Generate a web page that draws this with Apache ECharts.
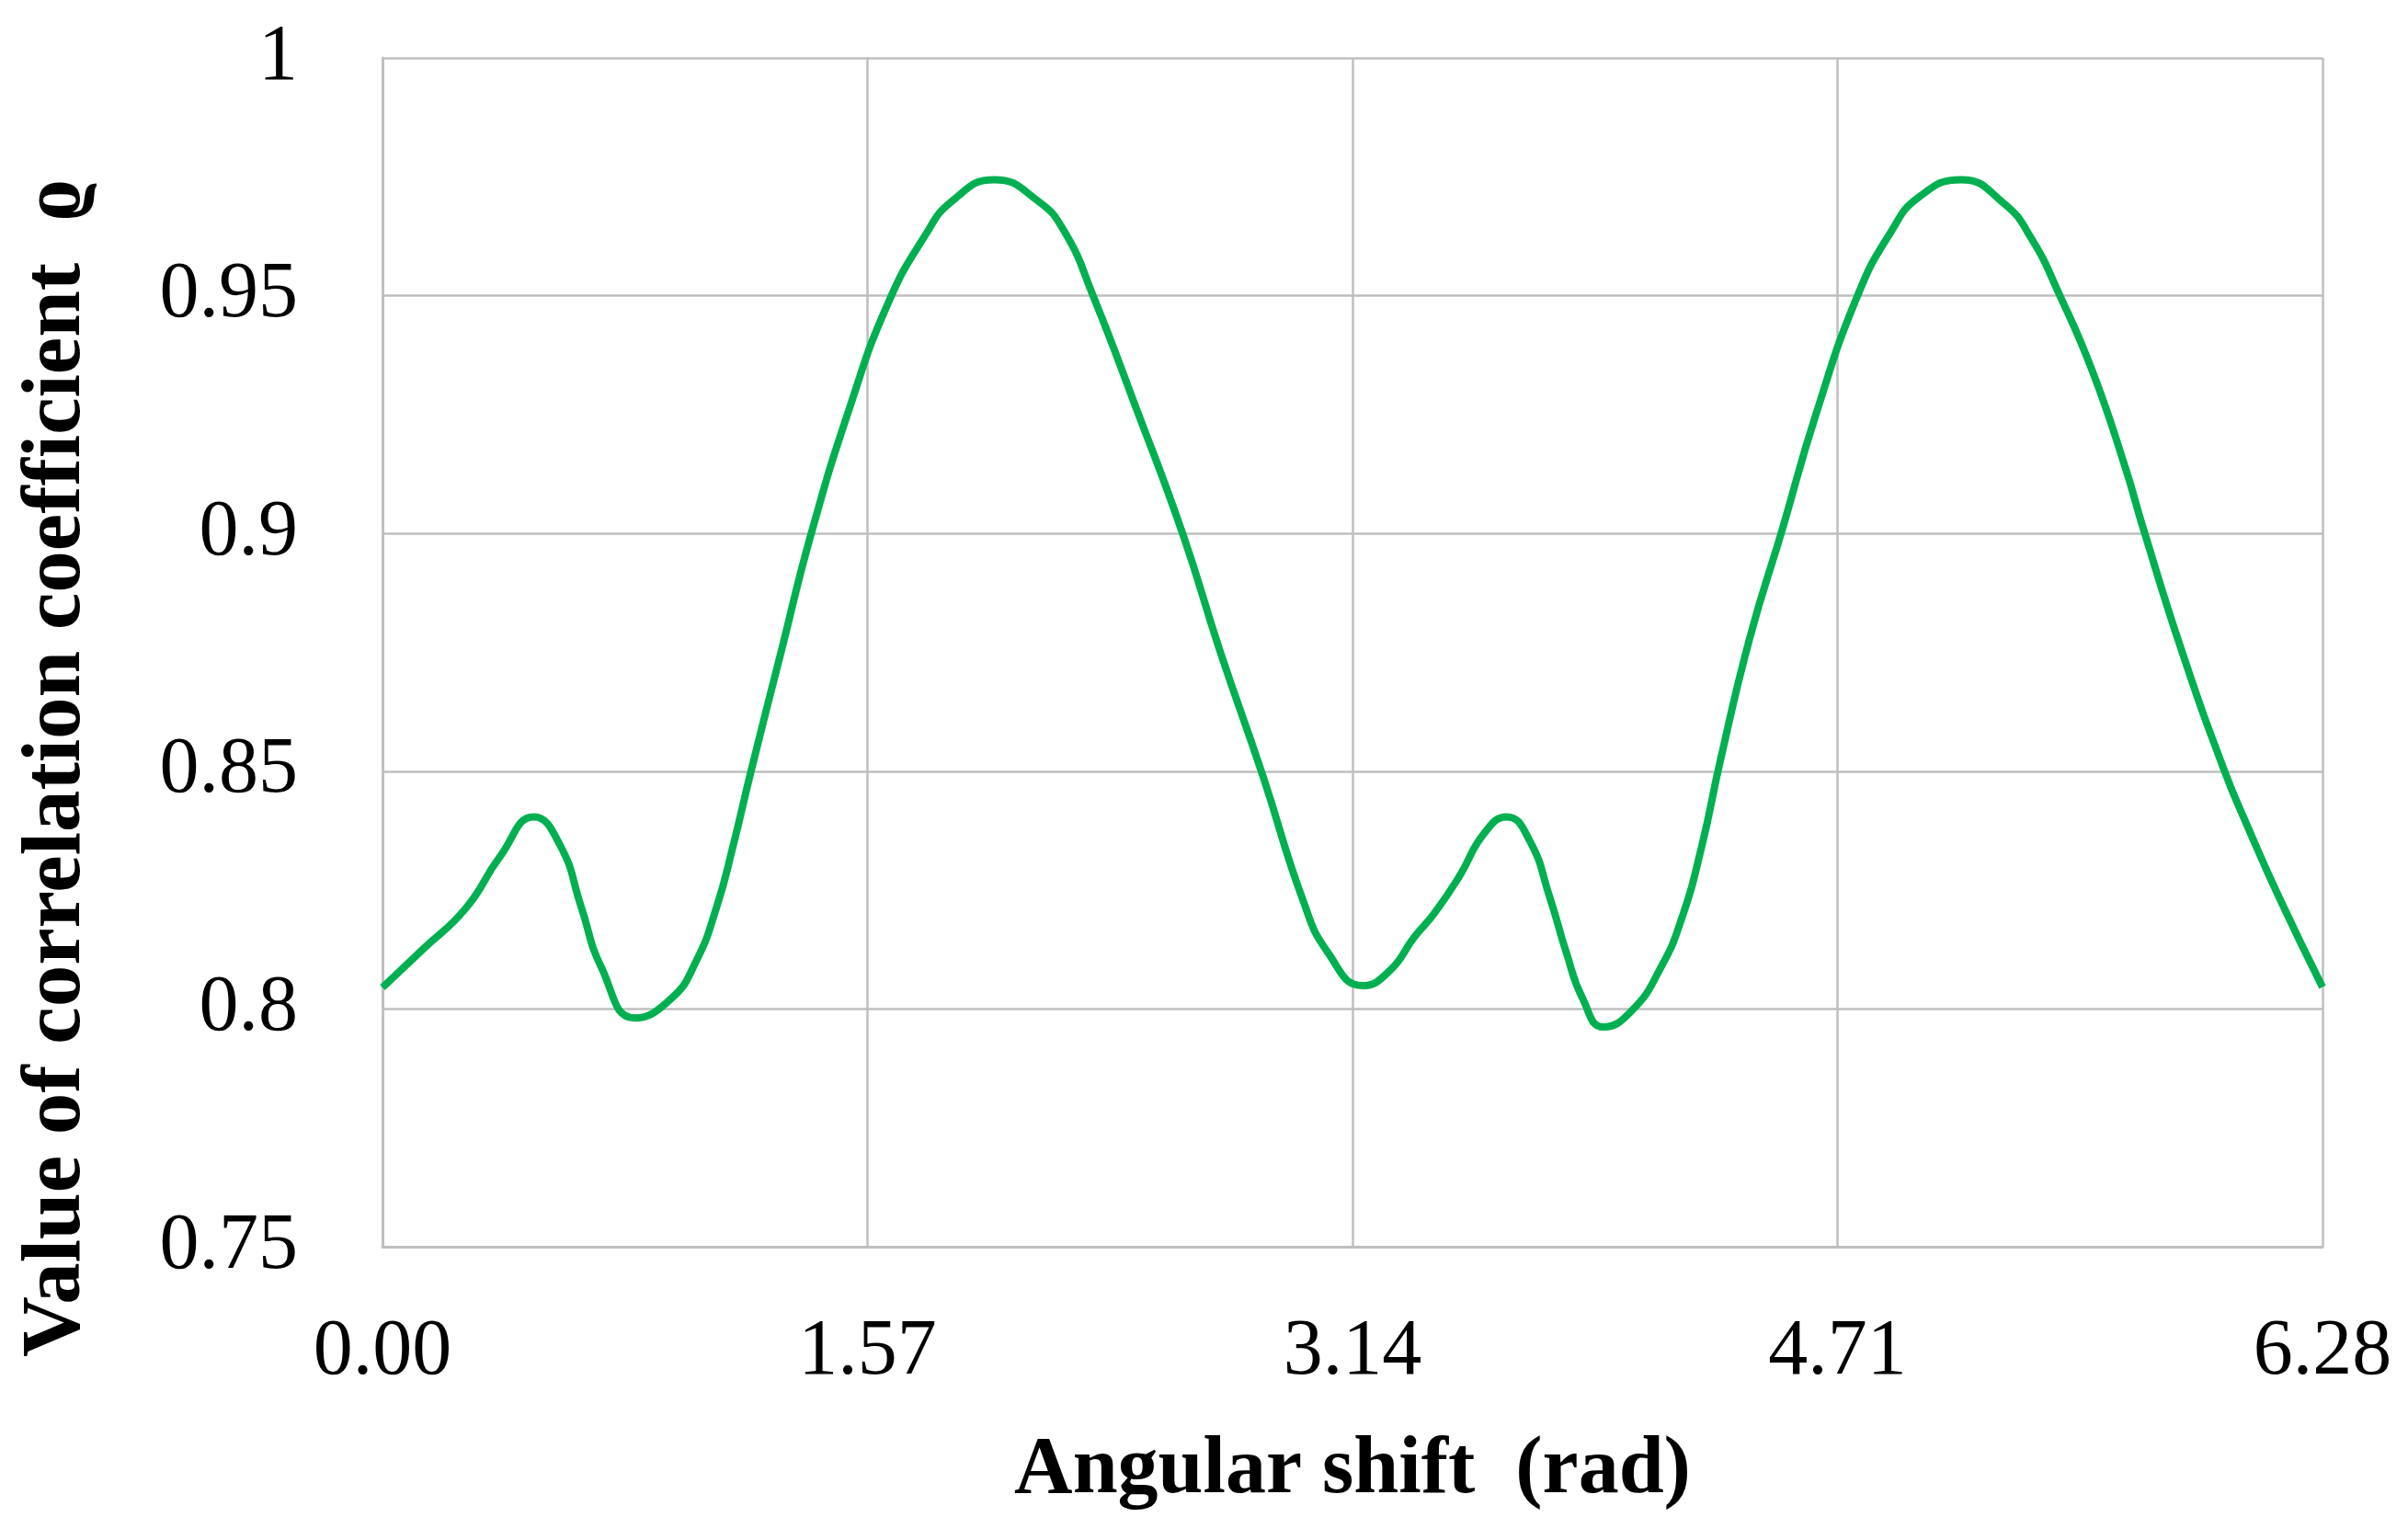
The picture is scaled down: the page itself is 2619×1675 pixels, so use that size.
<!DOCTYPE html>
<html>
<head>
<meta charset="utf-8">
<script src="https://cdn.jsdelivr.net/npm/echarts@6/dist/echarts.min.js"></script>
<style>
html,body{margin:0;padding:0;background:#fff;}
#chart{width:2619px;height:1675px;}
</style>
</head>
<body>
<div id="chart"></div>
<script>
// Angular shift (rad)
const angle = [0.00, 0.13, 0.27, 0.38, 0.49, 0.576, 0.643, 0.709, 0.816, 0.935, 1.015, 1.082, 1.135, 1.193, 1.29, 1.388, 1.51, 1.634, 1.755, 1.846, 1.98, 2.12, 2.21, 2.30, 2.436, 2.59, 2.71, 2.85, 2.98, 3.06, 3.173, 3.26, 3.34, 3.406, 3.486, 3.566, 3.639, 3.712, 3.779, 3.832, 3.885, 3.952, 4.045, 4.138, 4.205, 4.271, 4.33, 4.426, 4.532, 4.64, 4.775, 4.882, 4.973, 5.11, 5.247, 5.338, 5.43, 5.536, 5.641, 5.70, 5.826, 5.963, 6.04, 6.143, 6.28];
// Value of correlation coefficient
const corr = [0.8045, 0.8125, 0.8212, 0.832, 0.8404, 0.8343, 0.8215, 0.8087, 0.7981, 0.8022, 0.810, 0.8215, 0.8343, 0.850, 0.875, 0.900, 0.926, 0.948, 0.9625, 0.970, 0.9744, 0.970, 0.9632, 0.950, 0.927, 0.900, 0.8755, 0.849, 0.8228, 0.8119, 0.8049, 0.808, 0.8151, 0.8202, 0.8279, 0.8369, 0.8404, 0.8356, 0.8234, 0.8119, 0.8022, 0.7962, 0.7997, 0.8087, 0.8189, 0.8343, 0.852, 0.878, 0.901, 0.925, 0.950, 0.9633, 0.9707, 0.9744, 0.9695, 0.962, 0.950, 0.934, 0.914, 0.901, 0.875, 0.850, 0.838, 0.823, 0.8046];
const xTickLabels = ['0.00', '1.57', '3.14', '4.71', '6.28'];
const yTickLabels = ['0.75', '0.8', '0.85', '0.9', '0.95', '1'];

const xName = 'Angular shift  (rad)';
const yName = 'Value of correlation coefficient  \u03F1';

const seriesData = angle.map((a, i) => [a, corr[i]]);

const chart = echarts.init(document.getElementById('chart'), null, {renderer: 'canvas'});
const gridColor = '#bfbfbf';
const serif = '"Liberation Serif", "DejaVu Serif", serif';

chart.setOption({
  backgroundColor: '#ffffff',
  animation: false,
  grid: {left: 416, right: 93, top: 63, bottom: 319, containLabel: false},
  xAxis: {
    type: 'value',
    min: 0,
    max: 6.28,
    interval: 1.57,
    name: xName,
    nameLocation: 'middle',
    nameGap: 200,
    nameTextStyle: {fontFamily: serif, fontSize: 88, fontWeight: 'bold', color: '#000'},
    axisLine: {show: true, lineStyle: {color: gridColor, width: 3}},
    axisTick: {show: false},
    axisLabel: {
      fontFamily: serif, fontSize: 86, color: '#000', margin: 72,
      formatter: function (v) { return xTickLabels[Math.round(v / 1.57)]; }
    },
    splitLine: {show: true, lineStyle: {color: gridColor, width: 2.5}}
  },
  yAxis: {
    type: 'value',
    min: 0.75,
    max: 1,
    interval: 0.05,
    name: yName,
    nameLocation: 'middle',
    nameGap: 308,
    nameTextStyle: {fontFamily: serif, fontSize: 91, fontWeight: 'bold', color: '#000', padding: [0, 252, 0, 0]},
    axisLine: {show: true, lineStyle: {color: gridColor, width: 3}},
    axisTick: {show: false},
    axisLabel: {
      fontFamily: serif, fontSize: 86, color: '#000', margin: 92,
      formatter: function (v) { return yTickLabels[Math.round((v - 0.75) / 0.05)]; }
    },
    splitLine: {show: true, lineStyle: {color: gridColor, width: 2.5}}
  },
  series: [{
    type: 'line',
    data: seriesData,
    smooth: 0.5,
    showSymbol: false,
    lineStyle: {color: '#00b050', width: 8},
    itemStyle: {color: '#00b050'}
  }]
});
</script>
</body>
</html>
